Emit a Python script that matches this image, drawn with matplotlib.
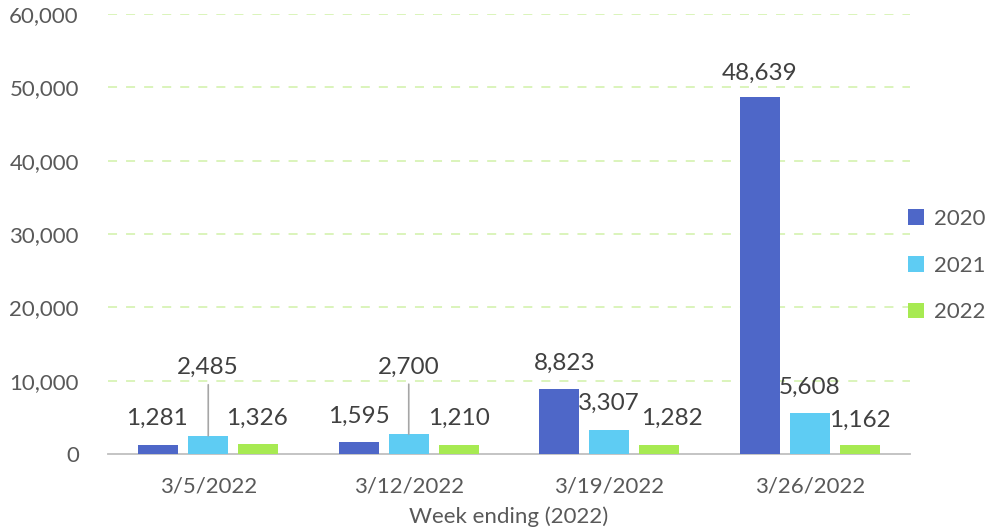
import matplotlib
matplotlib.use("Agg")
import matplotlib.pyplot as plt
import numpy as np

categories = ["3/5/2022", "3/12/2022", "3/19/2022", "3/26/2022"]
series_names = ["2020", "2021", "2022"]
values_2020 = [1281, 1595, 8823, 48639]
values_2021 = [2485, 2700, 3307, 5608]
values_2022 = [1326, 1210, 1282, 1162]
y_ticks = [0, 10000, 20000, 30000, 40000, 50000, 60000]
x_title = "Week ending (2022)"

colors = ["#4E67C8", "#5ECCF3", "#A7EA52"]
text_color = "#595959"

plt.rcParams['font.family'] = ['Lato', 'DejaVu Sans']

fig = plt.figure(figsize=(10.03, 5.27), dpi=100)
ax = fig.add_axes([108/1003, 1-454/527, (910-108)/1003, (454-14)/527])

series = [values_2020, values_2021, values_2022]
x = np.arange(len(categories))
width = 0.2
offsets = [-0.25, 0, 0.25]

# label offsets in pixels (dx, dy from bar top to label centre)
label_offsets = [
    [(-1, 28), (0, 28), (6, 28), (0, 26)],
    [(0, 70), (0, 69), (0, 28), (0, 28)],
    [(-1, 28), (0, 29), (13, 28), (0, 27)],
]
leader = [[False]*4, [True, True, False, False], [False]*4]

for i, (vals, c) in enumerate(zip(series, colors)):
    xs = x + offsets[i]
    ax.bar(xs, vals, width=width, color=c, label=series_names[i], zorder=3)
    for j, v in enumerate(vals):
        dx, dy = label_offsets[i][j]
        ax.annotate(f"{v:,}", xy=(xs[j], v), xytext=(dx, dy), textcoords='offset pixels',
                    ha='center', va='center_baseline', fontsize=17.5, color="#404040", zorder=5)
        if leader[i][j]:
            ax.annotate("", xy=(xs[j], v), xytext=(0, dy - 19), textcoords='offset pixels',
                        arrowprops=dict(arrowstyle='-', color='#A6A6A6', lw=1.2,
                                        shrinkA=0, shrinkB=0), zorder=4)

ax.set_xlim(-0.5, len(categories) - 0.5)
ax.set_ylim(0, 60000)
ax.set_yticks(y_ticks)
ax.set_yticklabels([f"{t:,}" for t in y_ticks])
ax.set_xticks(x)
ax.set_xticklabels(categories)
ax.tick_params(axis='both', length=0, labelsize=16, labelcolor=text_color)
ax.tick_params(axis='y', pad=21)
ax.tick_params(axis='x', pad=16)
for g in y_ticks[1:]:
    ax.axhline(g, color='#D8F3B5', lw=1.3, ls=(0, (5, 5)), zorder=1)
for s in ['top', 'right', 'left']:
    ax.spines[s].set_visible(False)
ax.spines['bottom'].set_color('#BFBFBF')
ax.spines['bottom'].set_linewidth(1.3)
ax.set_xlabel(x_title, fontsize=16, color=text_color, labelpad=7)

leg = fig.legend(loc='upper left', bbox_to_anchor=(908/1003, 1-209/527),
                 bbox_transform=fig.transFigure,
                 frameon=False, fontsize=16, handlelength=0.7, handleheight=0.7,
                 handletextpad=0.45, labelspacing=1.2, borderaxespad=0, borderpad=0)
for t in leg.get_texts():
    t.set_color(text_color)

fig.savefig("out.png", dpi=100)
